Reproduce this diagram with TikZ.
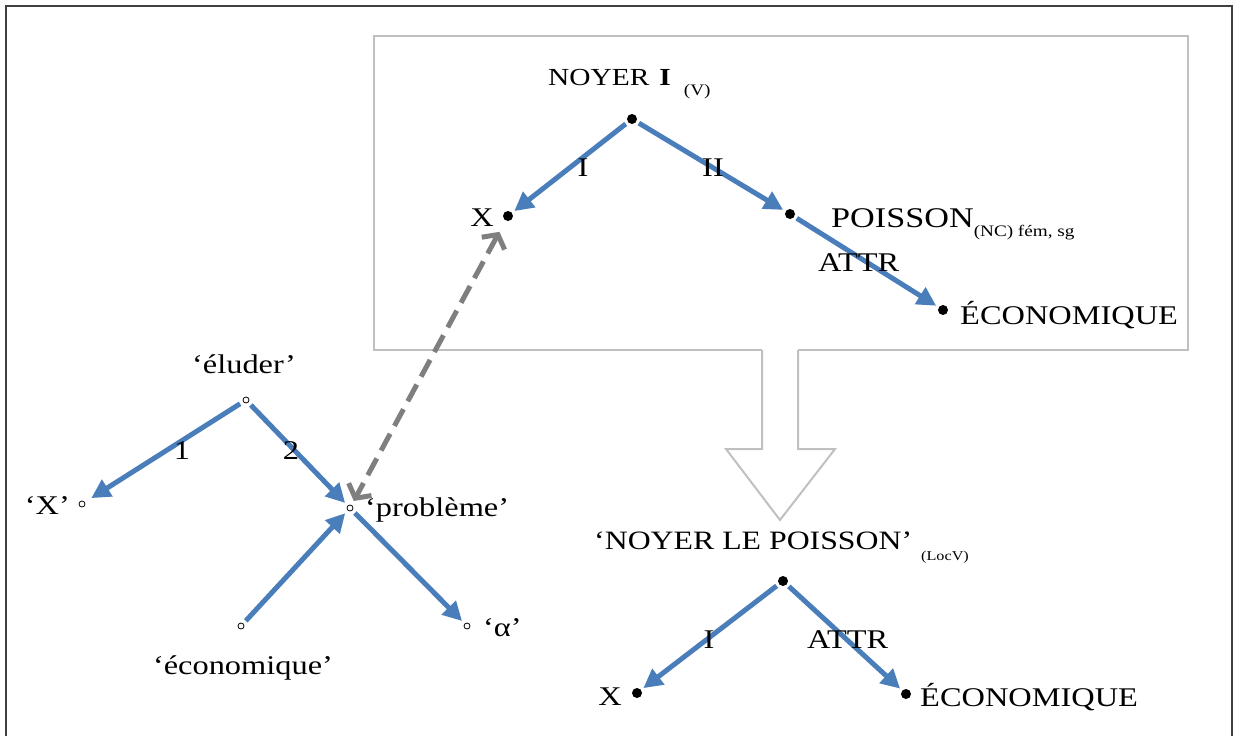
\documentclass[tikz,border=0pt]{standalone}
\usepackage{fontspec}
\setmainfont{Liberation Serif}[FakeStretch=1.2]
\usetikzlibrary{arrows.meta}
\definecolor{lineblue}{HTML}{4A7EBB}
\definecolor{dashgray}{HTML}{7F7F7F}
\definecolor{boxgray}{HTML}{C0C0C0}
\tikzset{
  dot/.style={circle,fill=black,inner sep=0pt,minimum size=10pt,outer sep=3pt},
  odot/.style={circle,draw=black,line width=0.8pt,fill=white,inner sep=0pt,minimum size=6pt,outer sep=4pt},
  blarrow/.style={draw=lineblue,line width=5pt,-{Triangle[length=19pt,width=19pt]}},
  dasharrow/.style={draw=dashgray,line width=5pt,dash pattern=on 19pt off 9pt,
     {Straight Barb[length=10pt,width=26pt]}-{Straight Barb[length=10pt,width=26pt]}},
  lbl/.style={inner sep=0pt,font=\fontsize{27}{32}\selectfont},
}
\begin{document}
\begin{tikzpicture}[x=1pt,y=-1pt]
\useasboundingbox (0,0) rectangle (1235,736);
% outer frame
\draw[line width=1.5pt,black!75] (6,745) -- (6,6) -- (1232,6) -- (1232,745);
% top box
\draw[boxgray,line width=2pt] (374,36) rectangle (1188,350);
% big hollow arrow
\fill[white] (762,348) -- (762,449) -- (726,449) -- (780,520) -- (835,449) -- (798,449) -- (798,348) -- cycle;
\draw[boxgray,line width=2pt,line join=miter] (762,350) -- (762,449) -- (726,449) -- (780,520) -- (835,449) -- (798,449) -- (798,350);

% ---------- top tree ----------
\node[dot] (tR) at (632,119) {};
\node[dot] (tX) at (508,216) {};
\node[dot] (tP) at (790,214) {};
\node[dot] (tE) at (943,310) {};
\node[lbl,anchor=base west] (tRl) at (548,85) {\fontsize{24.5}{28}\selectfont NOYER\hspace{10pt}\textbf{I}\hspace{13pt}\raisebox{-10pt}{\fontsize{16}{18}\selectfont(V)}};
\node[lbl,anchor=base east] (tXl) at (494,226) {X};
\node[lbl,anchor=base west] (tPl) at (831,227) {\fontsize{28.5}{32}\selectfont POISSON\raisebox{-9pt}{\fontsize{16}{18}\selectfont(NC) fém, sg}};
\node[lbl,anchor=base west] (tEl) at (960,324) {ÉCONOMIQUE};
\draw[blarrow] (tR) -- (tX);
\draw[blarrow] (tR) -- (tP);
\draw[blarrow] (tP) -- (tE);
\node[lbl,anchor=base] (tI) at (583,176) {I};
\node[lbl,anchor=base] (tII) at (713,176) {II};
\node[lbl,anchor=base west] (tA) at (818,271) {ATTR};

% ---------- left tree ----------
\node[odot] (el) at (246,400) {};
\node[odot] (lx) at (82,504) {};
\node[odot] (pr) at (350,508) {};
\node[odot] (ec) at (241,626) {};
\node[odot] (al) at (467,626) {};
\node[lbl,anchor=base] (ell) at (244,373) {‘éluder’};
\node[lbl,anchor=base east] (lxl) at (70,514) {‘X’};
\node[lbl,anchor=base west] (prl) at (365,516) {‘problème’};
\node[lbl,anchor=base west] (all) at (483,636) {‘α’};
\node[lbl,anchor=base] (ecl) at (243,674) {‘économique’};
\draw[blarrow,shorten >=4pt] (el) -- (lx);
\draw[blarrow] (el) -- (pr);
\draw[blarrow] (ec) -- (pr);
\draw[blarrow] (pr) -- (al);
\node[lbl,anchor=base] (l1) at (182,459) {1};
\node[lbl,anchor=base] (l2) at (291,459) {2};

% dashed link
\draw[dasharrow,shorten <=10pt,shorten >=1pt] (tX) -- (pr);

% ---------- bottom tree ----------
\node[dot] (bR) at (783,581) {};
\node[dot] (bX) at (637,693) {};
\node[dot] (bE) at (906,694) {};
\node[lbl,anchor=base west] (bRl) at (594,549) {\fontsize{26.5}{30}\selectfont‘NOYER LE POISSON’\hspace{9pt}\raisebox{-11pt}{\fontsize{13.5}{15}\selectfont(LocV)}};
\node[lbl,anchor=base east] (bXl) at (622,705) {X};
\node[lbl,anchor=base west] (bEl) at (920,706) {ÉCONOMIQUE};
\draw[blarrow] (bR) -- (bX);
\draw[blarrow] (bR) -- (bE);
\node[lbl,anchor=base] (bI) at (709,648) {I};
\node[lbl,anchor=base west] (bA) at (807,648) {ATTR};
\end{tikzpicture}
\end{document}
